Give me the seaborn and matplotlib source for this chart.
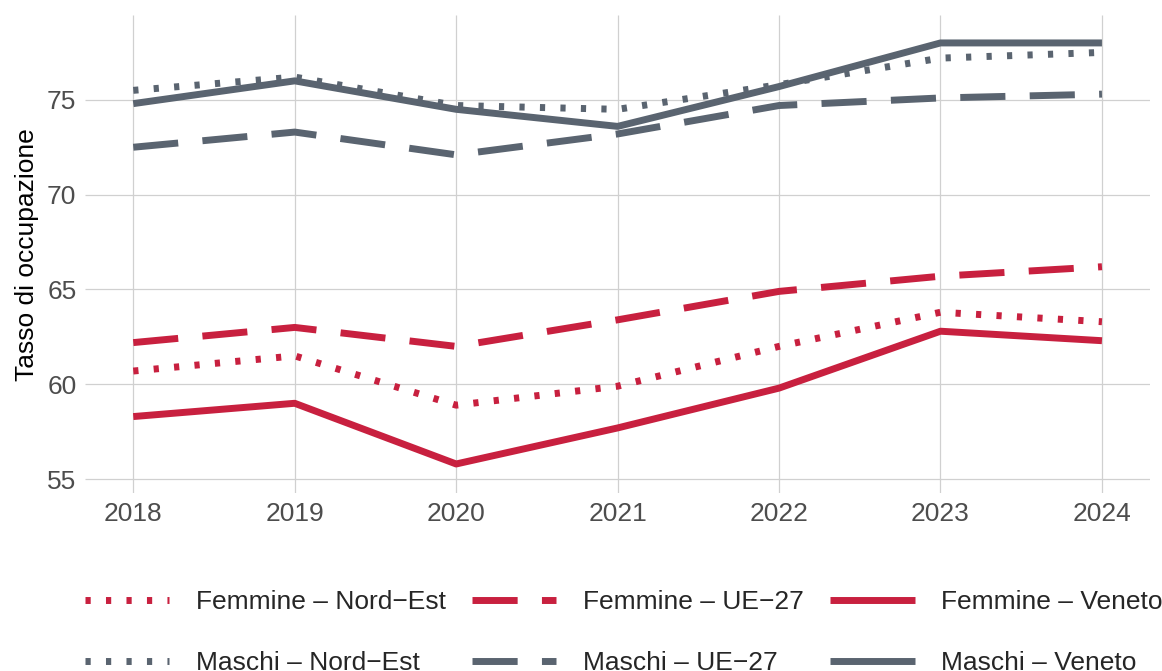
import numpy as np
import pandas as pd
import matplotlib
matplotlib.use("Agg")
import matplotlib.pyplot as plt
import seaborn as sns

# data
years = [2018, 2019, 2020, 2021, 2022, 2023, 2024]
femmine_nord_est = [60.7, 61.5, 58.9, 59.9, 62.0, 63.8, 63.3]
femmine_ue27 = [62.2, 63.0, 62.0, 63.4, 64.9, 65.7, 66.2]
femmine_veneto = [58.3, 59.0, 55.8, 57.7, 59.8, 62.8, 62.3]
maschi_nord_est = [75.5, 76.2, 74.7, 74.5, 75.8, 77.2, 77.5]
maschi_ue27 = [72.5, 73.3, 72.1, 73.2, 74.7, 75.1, 75.3]
maschi_veneto = [74.8, 76.0, 74.5, 73.6, 75.7, 78.0, 78.0]

series = {
    "Femmine – Nord−Est": femmine_nord_est,
    "Femmine – UE−27": femmine_ue27,
    "Femmine – Veneto": femmine_veneto,
    "Maschi – Nord−Est": maschi_nord_est,
    "Maschi – UE−27": maschi_ue27,
    "Maschi – Veneto": maschi_veneto,
}

rows = []
for name, vals in series.items():
    for y, v in zip(years, vals):
        rows.append({"anno": y, "tasso": v, "gruppo": name})
df = pd.DataFrame(rows)

red = "#C8203F"
grey = "#5A6470"
palette = {k: (red if k.startswith("Femmine") else grey) for k in series}
dotted = (0.75, 2.2)
dashed = (6.5, 3.5)
dashes = {}
for k in series:
    if "Nord" in k:
        dashes[k] = dotted
    elif "UE" in k:
        dashes[k] = dashed
    else:
        dashes[k] = ""

sns.set_theme(style="whitegrid")
plt.rcParams["font.family"] = ["Liberation Sans", "DejaVu Sans"]
plt.rcParams["lines.solid_capstyle"] = "butt"
plt.rcParams["lines.dash_capstyle"] = "butt"

fig = plt.figure(figsize=(11.62, 6.71), dpi=100)
ax = fig.add_axes([0.073, 0.265, 0.917, 0.712])

sns.lineplot(data=df, x="anno", y="tasso", hue="gruppo", style="gruppo",
             palette=palette, dashes=dashes, linewidth=5, ax=ax, legend=False)
for ln in ax.lines:
    ln.set_solid_capstyle("butt")
    ln.set_solid_joinstyle("round")

ax.set_xlim(2017.7, 2024.3)
ax.set_ylim(54.26, 79.45)
ax.set_xticks(years)
ax.set_yticks([55, 60, 65, 70, 75])
ax.grid(True, color="#D0D0D0", linewidth=0.9)
for s in ax.spines.values():
    s.set_visible(False)
ax.tick_params(axis="both", length=0, labelsize=19, colors="#4D4D4D", pad=6)
ax.set_xlabel("")
ax.set_ylabel("Tasso di occupazione", fontsize=19, color="black", labelpad=6)

# legend: column-major order so rows are Femmine / Maschi
order = ["Femmine – Nord−Est", "Maschi – Nord−Est",
         "Femmine – UE−27", "Maschi – UE−27",
         "Femmine – Veneto", "Maschi – Veneto"]
handles = []
for k in order:
    h, = ax.plot([], [], color=palette[k], linewidth=5, solid_capstyle="butt")
    if dashes[k]:
        h.set_dashes(dashes[k])
    handles.append(h)
fig.legend(handles, order, loc="upper left", bbox_to_anchor=(0.073, 0.120),
           ncol=3, frameon=False, fontsize=19, handlelength=3.2,
           handletextpad=1.0, columnspacing=1.0, labelspacing=1.4,
           borderpad=0, borderaxespad=0)

fig.savefig("out.png", dpi=100)
